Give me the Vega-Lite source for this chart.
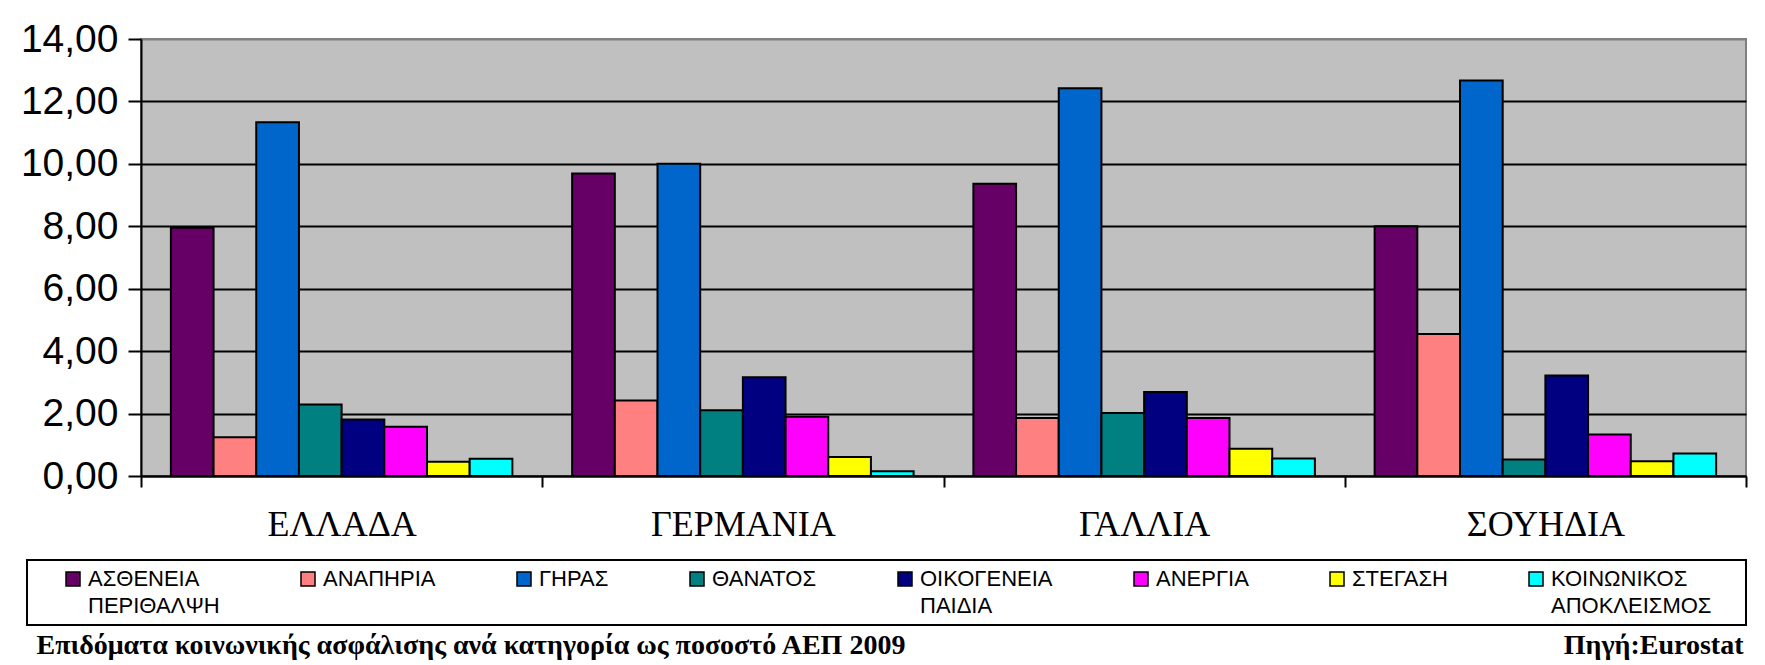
{
  "$schema": "https://vega.github.io/schema/vega-lite/v6.json",
  "width": 1605,
  "height": 437,
  "autosize": {"type": "none"},
  "padding": {"left": 141, "top": 39, "right": 19, "bottom": 189},
  "background": "white",
  "data": {
    "values": [
      {"country": "ΕΛΛΑΔΑ", "category": "ΑΣΘΕΝΕΙΑ ΠΕΡΙΘΑΛΨΗ", "value": 7.95},
      {"country": "ΕΛΛΑΔΑ", "category": "ΑΝΑΠΗΡΙΑ", "value": 1.24},
      {"country": "ΕΛΛΑΔΑ", "category": "ΓΗΡΑΣ", "value": 11.33},
      {"country": "ΕΛΛΑΔΑ", "category": "ΘΑΝΑΤΟΣ", "value": 2.29},
      {"country": "ΕΛΛΑΔΑ", "category": "ΟΙΚΟΓΕΝΕΙΑ ΠΑΙΔΙΑ", "value": 1.81},
      {"country": "ΕΛΛΑΔΑ", "category": "ΑΝΕΡΓΙΑ", "value": 1.58},
      {"country": "ΕΛΛΑΔΑ", "category": "ΣΤΕΓΑΣΗ", "value": 0.46},
      {"country": "ΕΛΛΑΔΑ", "category": "ΚΟΙΝΩΝΙΚΟΣ ΑΠΟΚΛΕΙΣΜΟΣ", "value": 0.55},
      {"country": "ΓΕΡΜΑΝΙΑ", "category": "ΑΣΘΕΝΕΙΑ ΠΕΡΙΘΑΛΨΗ", "value": 9.69},
      {"country": "ΓΕΡΜΑΝΙΑ", "category": "ΑΝΑΠΗΡΙΑ", "value": 2.42},
      {"country": "ΓΕΡΜΑΝΙΑ", "category": "ΓΗΡΑΣ", "value": 10.0},
      {"country": "ΓΕΡΜΑΝΙΑ", "category": "ΘΑΝΑΤΟΣ", "value": 2.11},
      {"country": "ΓΕΡΜΑΝΙΑ", "category": "ΟΙΚΟΓΕΝΕΙΑ ΠΑΙΔΙΑ", "value": 3.16},
      {"country": "ΓΕΡΜΑΝΙΑ", "category": "ΑΝΕΡΓΙΑ", "value": 1.9},
      {"country": "ΓΕΡΜΑΝΙΑ", "category": "ΣΤΕΓΑΣΗ", "value": 0.61},
      {"country": "ΓΕΡΜΑΝΙΑ", "category": "ΚΟΙΝΩΝΙΚΟΣ ΑΠΟΚΛΕΙΣΜΟΣ", "value": 0.15},
      {"country": "ΓΑΛΛΙΑ", "category": "ΑΣΘΕΝΕΙΑ ΠΕΡΙΘΑΛΨΗ", "value": 9.36},
      {"country": "ΓΑΛΛΙΑ", "category": "ΑΝΑΠΗΡΙΑ", "value": 1.86},
      {"country": "ΓΑΛΛΙΑ", "category": "ΓΗΡΑΣ", "value": 12.42},
      {"country": "ΓΑΛΛΙΑ", "category": "ΘΑΝΑΤΟΣ", "value": 2.02},
      {"country": "ΓΑΛΛΙΑ", "category": "ΟΙΚΟΓΕΝΕΙΑ ΠΑΙΔΙΑ", "value": 2.69},
      {"country": "ΓΑΛΛΙΑ", "category": "ΑΝΕΡΓΙΑ", "value": 1.86},
      {"country": "ΓΑΛΛΙΑ", "category": "ΣΤΕΓΑΣΗ", "value": 0.87},
      {"country": "ΓΑΛΛΙΑ", "category": "ΚΟΙΝΩΝΙΚΟΣ ΑΠΟΚΛΕΙΣΜΟΣ", "value": 0.56},
      {"country": "ΣΟΥΗΔΙΑ", "category": "ΑΣΘΕΝΕΙΑ ΠΕΡΙΘΑΛΨΗ", "value": 8.0},
      {"country": "ΣΟΥΗΔΙΑ", "category": "ΑΝΑΠΗΡΙΑ", "value": 4.55},
      {"country": "ΣΟΥΗΔΙΑ", "category": "ΓΗΡΑΣ", "value": 12.67},
      {"country": "ΣΟΥΗΔΙΑ", "category": "ΘΑΝΑΤΟΣ", "value": 0.53},
      {"country": "ΣΟΥΗΔΙΑ", "category": "ΟΙΚΟΓΕΝΕΙΑ ΠΑΙΔΙΑ", "value": 3.22},
      {"country": "ΣΟΥΗΔΙΑ", "category": "ΑΝΕΡΓΙΑ", "value": 1.33},
      {"country": "ΣΟΥΗΔΙΑ", "category": "ΣΤΕΓΑΣΗ", "value": 0.47},
      {"country": "ΣΟΥΗΔΙΑ", "category": "ΚΟΙΝΩΝΙΚΟΣ ΑΠΟΚΛΕΙΣΜΟΣ", "value": 0.72}
    ]
  },
  "mark": {"type": "bar", "stroke": "black", "strokeWidth": 2},
  "encoding": {
    "x": {
      "field": "country",
      "type": "nominal",
      "sort": ["ΕΛΛΑΔΑ", "ΓΕΡΜΑΝΙΑ", "ΓΑΛΛΙΑ", "ΣΟΥΗΔΙΑ"],
      "scale": {"paddingInner": 0, "paddingOuter": 0},
      "axis": {
        "title": "Πηγή:Eurostat",
        "titleFont": "Liberation Serif",
        "titleFontWeight": "bold",
        "titleFontSize": 28,
        "titleColor": "black",
        "titleAnchor": "end",
        "titleAlign": "right",
        "titleBaseline": "alphabetic",
        "titleX": 1602,
        "titleY": 177,
        "labelAngle": 0,
        "labelFont": "Liberation Serif",
        "labelFontSize": 36,
        "labelColor": "black",
        "labelPadding": 20,
        "labelBaseline": "top",
        "labelLimit": 600,
        "tickBand": "extent",
        "tickSize": 11,
        "tickWidth": 2,
        "tickColor": "black",
        "domainColor": "black",
        "domainWidth": 2,
        "grid": false
      }
    },
    "xOffset": {
      "field": "category",
      "type": "nominal",
      "sort": ["ΑΣΘΕΝΕΙΑ ΠΕΡΙΘΑΛΨΗ", "ΑΝΑΠΗΡΙΑ", "ΓΗΡΑΣ", "ΘΑΝΑΤΟΣ", "ΟΙΚΟΓΕΝΕΙΑ ΠΑΙΔΙΑ", "ΑΝΕΡΓΙΑ", "ΣΤΕΓΑΣΗ", "ΚΟΙΝΩΝΙΚΟΣ ΑΠΟΚΛΕΙΣΜΟΣ"],
      "scale": {"paddingInner": 0, "paddingOuter": 0.7}
    },
    "y": {
      "field": "value",
      "type": "quantitative",
      "scale": {"domain": [0, 14], "nice": false},
      "axis": {
        "title": "Επιδόματα κοινωνικής ασφάλισης ανά κατηγορία ως ποσοστό ΑΕΠ 2009",
        "titleFont": "Liberation Serif",
        "titleFontWeight": "bold",
        "titleFontSize": 28,
        "titleColor": "black",
        "titleAngle": 0,
        "titleAlign": "left",
        "titleBaseline": "alphabetic",
        "titleX": -105,
        "titleY": 614,
        "values": [0, 2, 4, 6, 8, 10, 12, 14],
        "labelExpr": "replace(format(datum.value, '.2f'), '.', ',')",
        "labelFont": "Liberation Sans",
        "labelFontSize": 39,
        "labelColor": "black",
        "labelPadding": 10,
        "tickSize": 13,
        "tickWidth": 2,
        "tickColor": "black",
        "domainColor": "black",
        "domainWidth": 2,
        "grid": true,
        "gridColor": {"condition": {"test": "datum.value == 14", "value": "#808080"}, "value": "black"},
        "gridWidth": 2
      }
    },
    "color": {
      "field": "category",
      "type": "nominal",
      "sort": ["ΑΣΘΕΝΕΙΑ ΠΕΡΙΘΑΛΨΗ", "ΑΝΑΠΗΡΙΑ", "ΓΗΡΑΣ", "ΘΑΝΑΤΟΣ", "ΟΙΚΟΓΕΝΕΙΑ ΠΑΙΔΙΑ", "ΑΝΕΡΓΙΑ", "ΣΤΕΓΑΣΗ", "ΚΟΙΝΩΝΙΚΟΣ ΑΠΟΚΛΕΙΣΜΟΣ"],
      "scale": {
        "domain": ["ΑΣΘΕΝΕΙΑ ΠΕΡΙΘΑΛΨΗ", "ΑΝΑΠΗΡΙΑ", "ΓΗΡΑΣ", "ΘΑΝΑΤΟΣ", "ΟΙΚΟΓΕΝΕΙΑ ΠΑΙΔΙΑ", "ΑΝΕΡΓΙΑ", "ΣΤΕΓΑΣΗ", "ΚΟΙΝΩΝΙΚΟΣ ΑΠΟΚΛΕΙΣΜΟΣ"],
        "range": ["#660066", "#FF8080", "#0066CC", "#008080", "#000080", "#FF00FF", "#FFFF00", "#00FFFF"]
      },
      "legend": {
        "title": " ",
        "titleOrient": "right",
        "titleFontSize": 10,
        "titlePadding": 27,
        "orient": "none",
        "legendX": -114,
        "legendY": 521,
        "direction": "horizontal",
        "columns": 8,
        "columnPadding": 50,
        "symbolOffset": 27,
        "padding": 8,
        "strokeColor": "black",
        "fillColor": "white",
        "symbolType": "square",
        "symbolSize": 196,
        "symbolStrokeColor": "black",
        "symbolStrokeWidth": 1.5,
        "labelFont": "Liberation Sans",
        "labelFontSize": 22,
        "labelColor": "black",
        "labelLimit": 400,
        "labelOffset": 4,
        "labelBaseline": "middle",
        "labelExpr": "indexof(datum.label, ' ') > 0 ? split(datum.label, ' ') : [datum.label, '']"
      }
    }
  },
  "config": {
    "view": {"fill": "#C0C0C0", "stroke": "#808080", "strokeWidth": 2},
    "style": {"guide-label": {"lineHeight": 27}},
    "legend": {"strokeWidth": 2}
  }
}
